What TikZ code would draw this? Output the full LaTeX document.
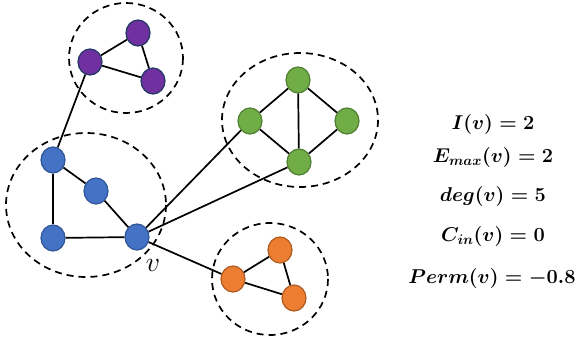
\documentclass[tikz,border=0pt]{standalone}
\usepackage{fix-cm}
\usetikzlibrary{shapes.geometric}
\definecolor{pfill}{HTML}{7030A0}\definecolor{pdraw}{HTML}{1F3864}
\definecolor{bfill}{HTML}{4472C4}\definecolor{bdraw}{HTML}{2F5597}
\definecolor{gfill}{HTML}{70AD47}\definecolor{gdraw}{HTML}{507E32}
\definecolor{ofill}{HTML}{ED7D31}\definecolor{odraw}{HTML}{AE5A21}
\tikzset{
  vtx/.style={ellipse,inner sep=0pt,minimum width=24pt,minimum height=26pt,line width=1.2pt},
  pv/.style={vtx,fill=pfill,draw=pdraw},
  bv/.style={vtx,fill=bfill,draw=bdraw},
  gv/.style={vtx,fill=gfill,draw=gdraw},
  ov/.style={vtx,fill=ofill,draw=odraw},
  grp/.style={draw,line width=1.7pt,dash pattern=on 7pt off 5pt},
  edg/.style={line width=1.7pt},
  measure/.style={font=\fontsize{20}{24}\selectfont\boldmath,inner sep=1pt}
}
\begin{document}
\begin{tikzpicture}[x=1pt,y=-1pt]
\useasboundingbox (0,0) rectangle (579,343);
% groups
\draw[grp] (126,58) ellipse [x radius=57, y radius=55];
\draw[grp] (300,120) ellipse [x radius=78, y radius=67];
\draw[grp] (86,205) ellipse [x radius=80, y radius=72];
\draw[grp] (270,279) ellipse [x radius=58, y radius=56];
% nodes
\node[pv] (a1) at (90,62) {};
\node[pv] (a2) at (138,33) {};
\node[pv] (a3) at (153,81) {};
\node[gv] (g1) at (298,80) {};
\node[gv] (g2) at (250,121) {};
\node[gv] (g3) at (347,121) {};
\node[gv] (g4) at (299,162) {};
\node[bv] (b1) at (53,160) {};
\node[bv] (b2) at (96,191) {};
\node[bv] (b3) at (53,238) {};
\node[bv] (b4) at (137,237) {};
\node[ov] (o1) at (233,279) {};
\node[ov] (o2) at (280,250) {};
\node[ov] (o3) at (294,298) {};
% edges
\draw[edg] (a1) -- (a2);
\draw[edg] (a1) -- (a3);
\draw[edg] (a2) -- (a3);
\draw[edg] (a1) -- (b1);
\draw[edg] (b1) -- (b2);
\draw[edg] (b2) -- (b4);
\draw[edg] (b1) -- (b3);
\draw[edg] (b3) -- (b4);
\draw[edg] (b4) -- (g2);
\draw[edg] (b4) -- (g4);
\draw[edg] (b4) -- (o1);
\draw[edg] (g1) -- (g2);
\draw[edg] (g1) -- (g3);
\draw[edg] (g1) -- (g4);
\draw[edg] (g2) -- (g4);
\draw[edg] (g3) -- (g4);
\draw[edg] (o1) -- (o2);
\draw[edg] (o1) -- (o3);
\draw[edg] (o2) -- (o3);
% label
\node[font=\fontsize{28}{30}\selectfont] (vl) at (153,265) {$v$};
% measures
\node[measure] (m1) at (493,124) {$I(v) = 2$};
\node[measure] (m2) at (493,157) {$E_{max}(v) = 2$};
\node[measure] (m3) at (493,196) {$deg(v) = 5$};
\node[measure] (m4) at (493,236) {$C_{in}(v) = 0$};
\node[measure] (m5) at (492,278) {$Perm(v) = -0.8$};
\end{tikzpicture}
\end{document}
